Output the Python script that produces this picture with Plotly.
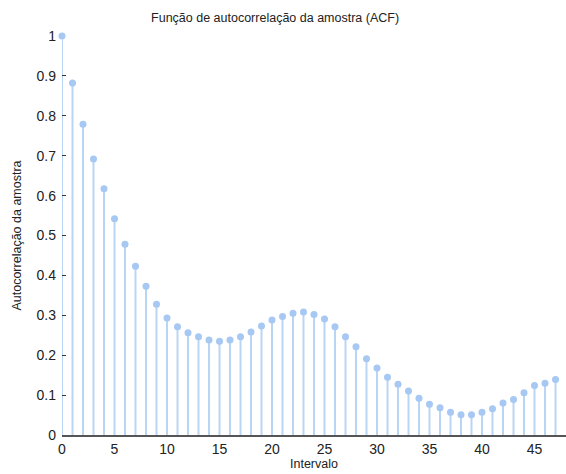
import plotly.graph_objects as go

lags = list(range(48))
acf = [1.0, 0.882, 0.779, 0.692, 0.617, 0.542, 0.478, 0.423, 0.373, 0.328,
       0.293, 0.271, 0.256, 0.246, 0.238, 0.235, 0.238, 0.246, 0.258, 0.273,
       0.288, 0.297, 0.305, 0.308, 0.302, 0.291, 0.271, 0.246, 0.221, 0.191,
       0.168, 0.145, 0.127, 0.110, 0.092, 0.077, 0.068, 0.057, 0.051, 0.051,
       0.057, 0.066, 0.080, 0.089, 0.106, 0.124, 0.130, 0.139]
x_ticks = [0, 5, 10, 15, 20, 25, 30, 35, 40, 45]
y_ticks = [0, 0.1, 0.2, 0.3, 0.4, 0.5, 0.6, 0.7, 0.8, 0.9, 1]
y_tick_text = ["0", "0.1", "0.2", "0.3", "0.4", "0.5", "0.6", "0.7", "0.8", "0.9", "1"]

stem_color = "#b9d5f5"
marker_color = "#a6c8f2"

fig = go.Figure()
fig.add_trace(go.Scatter(
    x=lags, y=acf, mode="markers",
    marker=dict(size=7, color=marker_color),
    error_y=dict(type="data", symmetric=False, array=[0] * len(acf),
                 arrayminus=acf, thickness=2, width=0, color=stem_color),
    cliponaxis=False, showlegend=False, hoverinfo="skip",
))

font = dict(family="Liberation Sans, Arial, sans-serif", size=13, color="#222")
fig.update_layout(
    width=566, height=474,
    margin=dict(l=62, r=0, t=36, b=39),
    paper_bgcolor="white", plot_bgcolor="white",
    font=font,
    title=dict(text="Função de autocorrelação da amostra (ACF)", x=0.486, xanchor="center",
               y=0.962, yanchor="middle", font=dict(size=12.5, color="#222")),
    xaxis=dict(range=[0, 48], tickvals=x_ticks, showgrid=False, zeroline=False,
               showline=True, linecolor="#555", linewidth=2, ticks="",
               automargin=False,
               title=dict(text="Intervalo", standoff=0, font=dict(size=12.5)),
               tickfont=dict(size=14)),
    yaxis=dict(range=[0, 1], tickvals=y_ticks, ticktext=y_tick_text, showgrid=False,
               zeroline=False, showline=False, ticks="inside", ticklen=4,
               tickcolor="#333", tickwidth=1, automargin=False, ticklabelstandoff=5,
               title=dict(text="Autocorrelação da amostra", standoff=12, font=dict(size=12.5)),
               tickfont=dict(size=14)),
)
fig.write_html("out.html", config={"displayModeBar": False},
               post_script="document.body.style.margin='0';document.body.style.overflow='hidden';")
